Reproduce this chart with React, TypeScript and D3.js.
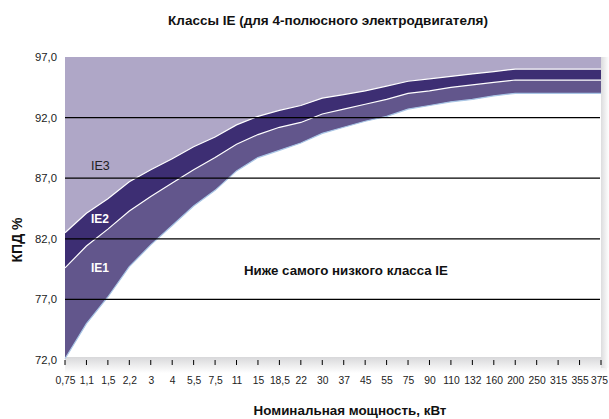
import React, { useEffect, useRef } from 'react';
import * as d3 from 'd3';

// Номинальная мощность, кВт (категории по оси X)
const powerLabels = [
  '0,75', '1,1', '1,5', '2,2', '3', '4', '5,5', '7,5', '11', '15', '18,5', '22', '30',
  '37', '45', '55', '75', '90', '110', '132', '160', '200', '250', '315', '355', '375'
];

// Минимальный КПД, % (4 полюса)
const ie1Values = [
  72.1, 75.0, 77.2, 79.7, 81.5, 83.1, 84.7, 86.0, 87.6, 88.7, 89.3, 89.9, 90.7,
  91.2, 91.7, 92.1, 92.7, 93.0, 93.3, 93.5, 93.8, 94.0, 94.0, 94.0, 94.0, 94.0
];
const ie2Values = [
  79.6, 81.4, 82.8, 84.3, 85.5, 86.6, 87.7, 88.7, 89.8, 90.6, 91.2, 91.6, 92.3,
  92.7, 93.1, 93.5, 94.0, 94.2, 94.5, 94.7, 94.9, 95.1, 95.1, 95.1, 95.1, 95.1
];
const ie3Values = [
  82.5, 84.1, 85.3, 86.7, 87.7, 88.6, 89.6, 90.4, 91.4, 92.1, 92.6, 93.0, 93.6,
  93.9, 94.2, 94.6, 95.0, 95.2, 95.4, 95.6, 95.8, 96.0, 96.0, 96.0, 96.0, 96.0
];

const yTicks = [72, 77, 82, 87, 92, 97];
const gridValues = [77, 82, 87, 92];

const W = 609;
const H = 419;
const FONT = '"Liberation Sans", Arial, Helvetica, sans-serif';

export default function App() {
  const svgRef = useRef<SVGSVGElement>(null);

  useEffect(() => {
    if (!svgRef.current) return;
    const svg = d3.select(svgRef.current);
    svg.selectAll('*').remove();

    const left = 65;
    const right = 601;
    const top = 57;
    const bottom = 360;

    const x = d3.scalePoint<string>().domain(powerLabels).range([left, right]);
    const y = d3.scaleLinear().domain([72, 97]).range([bottom, top]);

    const idx = powerLabels.map((_, i) => i);
    const xi = (i: number) => x(powerLabels[i]) as number;

    // shadow gradients
    const defs = svg.append('defs');
    const gb = defs.append('linearGradient').attr('id', 'shB').attr('x1', 0).attr('y1', 0).attr('x2', 0).attr('y2', 1);
    gb.append('stop').attr('offset', '0%').attr('stop-color', '#d8d8da');
    gb.append('stop').attr('offset', '100%').attr('stop-color', '#ffffff');
    const gr = defs.append('linearGradient').attr('id', 'shR').attr('x1', 0).attr('y1', 0).attr('x2', 1).attr('y2', 0);
    gr.append('stop').attr('offset', '0%').attr('stop-color', '#dcdcde');
    gr.append('stop').attr('offset', '100%').attr('stop-color', '#ffffff');

    svg.append('rect').attr('x', left).attr('y', bottom - 3).attr('width', right - left + 6).attr('height', 16).attr('fill', 'url(#shB)');
    svg.append('rect').attr('x', right).attr('y', top).attr('width', 8).attr('height', bottom - top + 8).attr('fill', 'url(#shR)');

    // IE3 background
    svg.append('rect')
      .attr('x', left).attr('y', top)
      .attr('width', right - left).attr('height', bottom - top - 3)
      .attr('fill', '#afa7c7');

    const areaTo = (vals: number[]) => d3.area<number>()
      .x(i => xi(i))
      .y0(bottom - 3)
      .y1(i => y(vals[i]));

    svg.append('path').datum(idx).attr('d', areaTo(ie3Values)).attr('fill', '#3d2e73');
    svg.append('path').datum(idx).attr('d', areaTo(ie2Values)).attr('fill', '#62568c');
    svg.append('path').datum(idx).attr('d', areaTo(ie1Values)).attr('fill', '#ffffff');

    const lineOf = (vals: number[]) => d3.line<number>().x(i => xi(i)).y(i => y(vals[i]));
    svg.append('path').datum(idx).attr('d', lineOf(ie3Values)).attr('fill', 'none').attr('stroke', '#ffffff').attr('stroke-width', 1.2);
    svg.append('path').datum(idx).attr('d', lineOf(ie2Values)).attr('fill', 'none').attr('stroke', '#ffffff').attr('stroke-width', 1.2);
    svg.append('path').datum(idx).attr('d', lineOf(ie1Values)).attr('fill', 'none').attr('stroke', '#a9c6e6').attr('stroke-width', 1.2);

    // grid lines
    svg.selectAll('.grid')
      .data(gridValues)
      .enter().append('line')
      .attr('x1', left).attr('x2', right - 1)
      .attr('y1', d => y(d)).attr('y2', d => y(d))
      .attr('stroke', '#000').attr('stroke-width', 1.2);

    // y tick labels
    svg.selectAll('.ytick')
      .data(yTicks)
      .enter().append('text')
      .attr('x', 57).attr('y', d => y(d) + 4)
      .attr('text-anchor', 'end')
      .style('font-family', FONT).style('font-size', '11.3px')
      .attr('fill', '#222')
      .text(d => d.toFixed(1).replace('.', ','));

    // x ticks
    svg.selectAll('.xtickmark')
      .data(powerLabels)
      .enter().append('line')
      .attr('x1', d => x(d) as number).attr('x2', d => x(d) as number)
      .attr('y1', 360).attr('y2', 365)
      .attr('stroke', '#000').attr('stroke-width', 1);

    svg.selectAll('.xtick')
      .data(powerLabels)
      .enter().append('text')
      .attr('x', (d, i) => (x(d) as number) + (i === powerLabels.length - 1 ? -1.5 : 0.5)).attr('y', 384)
      .attr('text-anchor', 'middle')
      .style('font-family', FONT).style('font-size', '10.3px')
      .attr('fill', '#222')
      .text(d => d);

    // class labels
    svg.append('text').attr('x', 91).attr('y', 170)
      .style('font-family', FONT).style('font-size', '12.5px').attr('fill', '#222').text('IE3');
    svg.append('text').attr('x', 91).attr('y', 223)
      .style('font-family', FONT).style('font-size', '12px').style('font-weight', 'bold').attr('fill', '#fff').text('IE2');
    svg.append('text').attr('x', 91).attr('y', 272)
      .style('font-family', FONT).style('font-size', '12px').style('font-weight', 'bold').attr('fill', '#fff').text('IE1');
    svg.append('text').attr('x', 244).attr('y', 275)
      .style('font-family', FONT).style('font-size', '13.3px').style('font-weight', 'bold').attr('fill', '#111')
      .text('Ниже самого низкого класса IE');

    // axis titles
    svg.append('text')
      .attr('transform', `translate(22, 240) rotate(-90)`)
      .attr('text-anchor', 'middle')
      .style('font-family', FONT).style('font-size', '14px').style('font-weight', 'bold')
      .attr('fill', '#111')
      .text('КПД %');

    svg.append('text')
      .attr('x', 350).attr('y', 415)
      .attr('text-anchor', 'middle')
      .style('font-family', FONT).style('font-size', '13.4px').style('font-weight', 'bold')
      .attr('fill', '#111')
      .text('Номинальная мощность, кВт');

    svg.append('text')
      .attr('x', 328).attr('y', 25)
      .attr('text-anchor', 'middle')
      .style('font-family', FONT).style('font-size', '13.5px').style('font-weight', 'bold')
      .attr('fill', '#111')
      .text('Классы IE (для 4-полюсного электродвигателя)');
  }, []);

  return (
    <svg
      ref={svgRef}
      width={W}
      height={H}
      style={{ position: 'absolute', left: 0, top: 0, background: '#fff' }}
    />
  );
}
